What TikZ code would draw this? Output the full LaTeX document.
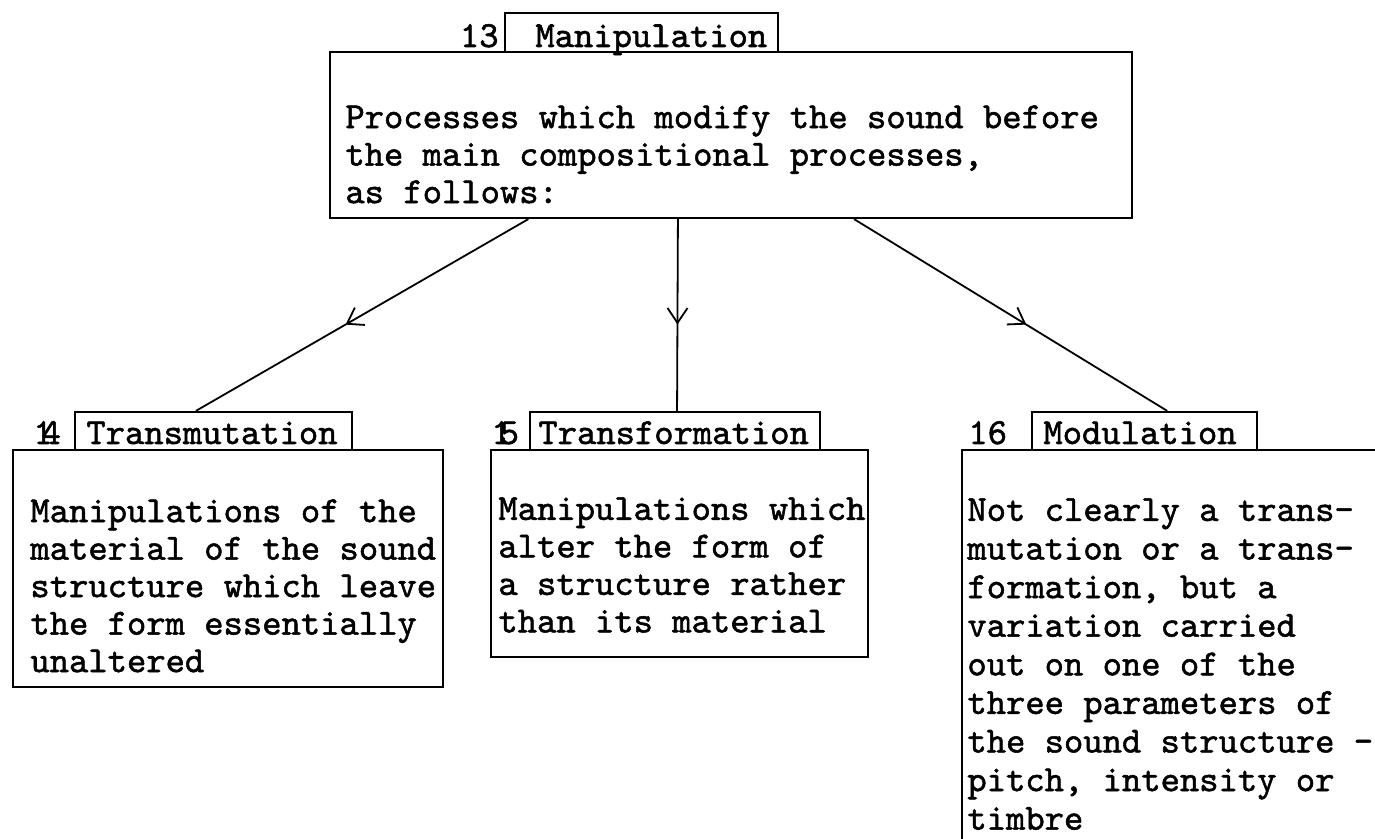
\documentclass[tikz,border=0pt]{standalone}
\usepackage{fontspec}
\newfontfamily\typer{lmmono10-regular.otf}[FakeBold=1.4]
\usetikzlibrary{fit,calc,arrows.meta,decorations.markings}
\begin{document}
\begin{tikzpicture}[x=0.5pt,y=-0.5pt,
  box/.style={draw, line width=1.1pt, inner sep=0pt, rectangle},
  frame/.style={inner sep=0pt, rectangle},
  edge/.style={line width=1.1pt},
  txt/.style={font=\typer\fontsize{18.4}{18.75}\selectfont, inner sep=0pt, align=left},
  conn/.style={line width=0.9pt, postaction={decorate},
    decoration={markings, mark=at position 0.55 with
      {\arrow{Straight Barb[length=7.5pt,width=10pt,line width=0.9pt]}}}}]
\fill[white] (0,0) rectangle (1375,839);
\useasboundingbox (0,0) rectangle (1375,839);

% 13 -- Manipulation
\node[box, fit={(505,13)(778,52)}] (t13) {};
\node[txt, anchor=base east] (n13) at (499,47) {13};
\node[txt, anchor=base west] (l13) at (535,47) {Manipulation};
\node[box, fit={(330,52)(1132,218)}] (b13) {};
\node[txt, anchor=north west] (x13) at (345,105)
  {Processes which modify the sound before\\the main compositional processes,\\as follows:};

% 14 -- Transmutation
\node[box, fit={(75,412)(352,450)}] (t14) {};
\node[txt, anchor=base west] (n14) at (33,444) {1\kern-0.3em 4};
\node[txt, anchor=base west] (l14) at (86,444) {Transmutation};
\node[box, fit={(13,450)(443,687)}] (b14) {};
\node[txt, anchor=north west] (x14) at (30,499)
  {Manipulations of the\\material of the sound\\structure which leave\\the form essentially\\unaltered};

% 15 -- Transformation
\node[box, fit={(530,412)(820,450)}] (t15) {};
\node[txt, anchor=base west] (n15) at (491,444) {1\kern-0.3em 5};
\node[txt, anchor=base west] (l15) at (538,444) {Transformation};
\node[box, fit={(491,450)(868,657)}] (b15) {};
\node[txt, anchor=north west] (x15) at (498,497)
  {Manipulations which\\alter the form of\\a structure rather\\than its material};

% 16 -- Modulation
\node[box, fit={(1032,412)(1257,450)}] (t16) {};
\node[txt, anchor=base west] (n16) at (968,444) {16};
\node[txt, anchor=base west] (l16) at (1043,444) {Modulation};
\node[frame, fit={(962,450)(1375,839)}] (b16) {};
\draw[edge] (b16.north east) -- (b16.north west) -- (b16.south west);
\node[txt, font=\typer\fontsize{18.4}{19.3}\selectfont, anchor=north west] (x16) at (967,498)
  {Not clearly a trans-\\mutation or a trans-\\formation, but a\\variation carried\\out on one of the\\three parameters of\\the sound structure -\\pitch, intensity or\\timbre};

% connectors
\draw[conn] ($(b13.south west)!0.248!(b13.south east)$) -- ($(t14.north west)!0.437!(t14.north east)$);
\draw[conn] ($(b13.south west)!0.434!(b13.south east)$) -- ($(t15.north west)!0.507!(t15.north east)$);
\draw[conn] ($(b13.south west)!0.653!(b13.south east)$) -- ($(t16.north west)!0.6!(t16.north east)$);
\end{tikzpicture}
\end{document}
